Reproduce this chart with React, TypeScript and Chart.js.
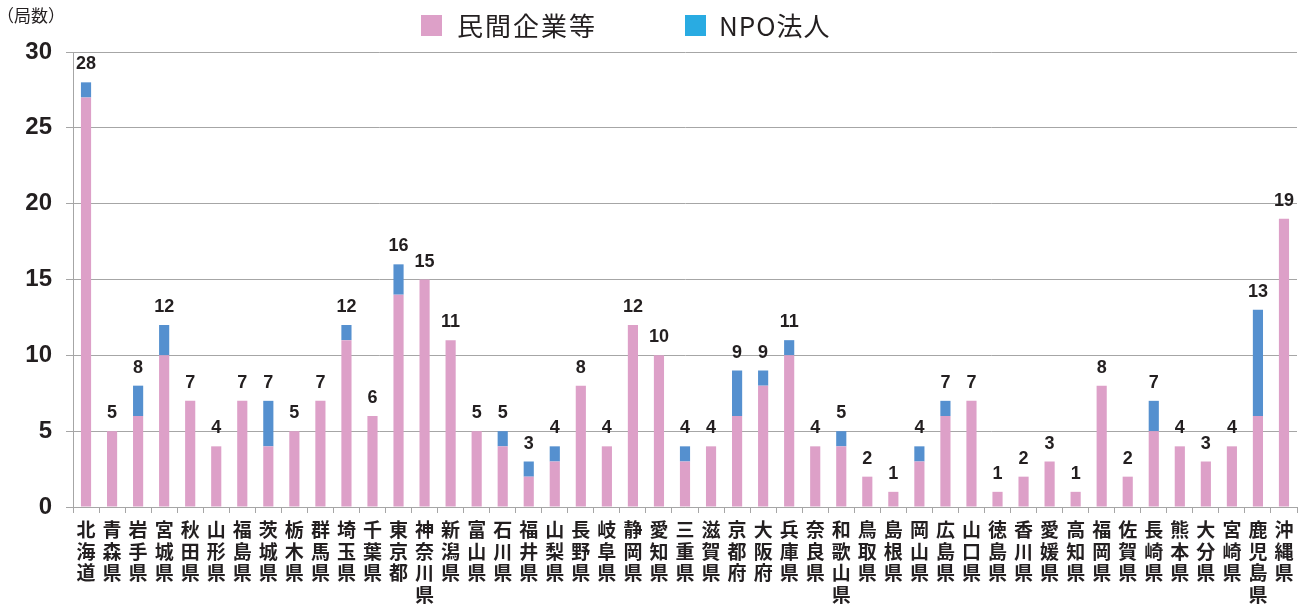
import React, { useEffect, useRef } from "react";
import { Chart, registerables } from "chart.js";

Chart.register(...registerables);

const prefectures: string[] = [
  "北海道", "青森県", "岩手県", "宮城県", "秋田県", "山形県", "福島県", "茨城県", "栃木県", "群馬県",
  "埼玉県", "千葉県", "東京都", "神奈川県", "新潟県", "富山県", "石川県", "福井県", "山梨県", "長野県",
  "岐阜県", "静岡県", "愛知県", "三重県", "滋賀県", "京都府", "大阪府", "兵庫県", "奈良県", "和歌山県",
  "鳥取県", "島根県", "岡山県", "広島県", "山口県", "徳島県", "香川県", "愛媛県", "高知県", "福岡県",
  "佐賀県", "長崎県", "熊本県", "大分県", "宮崎県", "鹿児島県", "沖縄県",
];

const privateCompanies: number[] = [
  27, 5, 6, 10, 7, 4, 7, 4, 5, 7,
  11, 6, 14, 15, 11, 5, 4, 2, 3, 8,
  4, 12, 10, 3, 4, 6, 8, 10, 4, 4,
  2, 1, 3, 6, 7, 1, 2, 3, 1, 8,
  2, 5, 4, 3, 4, 6, 19,
];

const npoCorporations: number[] = [
  1, 0, 2, 2, 0, 0, 0, 3, 0, 0,
  1, 0, 2, 0, 0, 0, 1, 1, 1, 0,
  0, 0, 0, 1, 0, 3, 1, 1, 0, 1,
  0, 0, 1, 1, 0, 0, 0, 0, 0, 0,
  0, 2, 0, 0, 0, 7, 0,
];

const yTicks: number[] = [0, 5, 10, 15, 20, 25, 30];

const seriesNames = ["民間企業等", "NPO法人"];
const PINK = "#DDA0C8";
const BLUE = "#5590CF";
const LEGEND_BLUE = "#29ABE2";
const GRID = "#A6A6A6";
const TEXT = "#231F20";

export default function App() {
  const ref = useRef<HTMLCanvasElement | null>(null);

  useEffect(() => {
    document.body.style.margin = "0";
    const canvas = ref.current;
    if (!canvas) return;

    const totalsPlugin = {
      id: "totals",
      afterDatasetsDraw(chart: any) {
        const ctx = chart.ctx;
        const xs = chart.scales.x;
        const ys = chart.scales.y;
        ctx.save();
        ctx.fillStyle = TEXT;
        ctx.font = "bold 18px 'Liberation Sans', Arial, sans-serif";
        ctx.textAlign = "center";
        ctx.textBaseline = "alphabetic";
        prefectures.forEach((_, i) => {
          const total = privateCompanies[i] + npoCorporations[i];
          const x = xs.getPixelForValue(i);
          const y = ys.getPixelForValue(total);
          ctx.fillText(String(total), x, y - 13);
        });
        ctx.restore();
      },
      afterDraw(chart: any) {
        const ctx = chart.ctx;
        ctx.save();
        // unit label
        ctx.fillStyle = TEXT;
        ctx.font = "17px 'Noto Sans CJK JP', sans-serif";
        ctx.textAlign = "left";
        ctx.textBaseline = "middle";
        ctx.fillText("（局数）", -3, 16);
        // legend
        const items = [
          { box: 421, text: 457, color: PINK, label: seriesNames[0], spacing: "2px" },
          { box: 685, text: 719, color: LEGEND_BLUE, label: seriesNames[1], spacing: "1px" },
        ];
        ctx.font = "26px 'Noto Sans CJK JP', sans-serif";
        items.forEach((it) => {
          try { (ctx as any).letterSpacing = it.spacing; } catch (e) {}
          ctx.fillStyle = it.color;
          ctx.fillRect(it.box, 15, 21, 21);
          ctx.fillStyle = TEXT;
          ctx.fillText(it.label, it.text, 26);
        });
        ctx.restore();
      },
    };

    const chart = new Chart(canvas, {
      type: "bar",
      data: {
        labels: prefectures.map((p) => p.split("")),
        datasets: [
          {
            label: seriesNames[0],
            data: privateCompanies,
            backgroundColor: PINK,
            barPercentage: 0.39,
            categoryPercentage: 1,
          },
          {
            label: seriesNames[1],
            data: npoCorporations,
            backgroundColor: BLUE,
            barPercentage: 0.39,
            categoryPercentage: 1,
          },
        ],
      },
      options: {
        animation: false,
        responsive: false,
        maintainAspectRatio: false,
        layout: { padding: { top: 52, right: 4, left: 0, bottom: 0 } },
        plugins: {
          legend: { display: false },
          tooltip: { enabled: false },
        },
        scales: {
          x: {
            stacked: true,
            afterFit: (s: any) => { s.height = 101; },
            grid: {
              offset: true,
              drawOnChartArea: false,
              drawTicks: true,
              tickLength: 6,
              color: GRID,
            },
            border: { color: GRID },
            ticks: {
              autoSkip: false,
              maxRotation: 0,
              minRotation: 0,
              padding: 6,
              color: TEXT,
              font: { family: "'Noto Sans CJK JP', sans-serif", size: 19, weight: "bold", lineHeight: 1.14 },
            },
          },
          y: {
            stacked: true,
            min: 0,
            max: 30,
            afterFit: (s: any) => { s.width = 73; },
            afterBuildTicks: (s: any) => { s.ticks = yTicks.map((v) => ({ value: v })); },
            grid: { color: GRID, tickLength: 7 },
            border: { color: GRID },
            ticks: {
              padding: 14,
              color: TEXT,
              font: { family: "'Liberation Sans', Arial, sans-serif", size: 24, weight: "bold" },
            },
          },
        },
      },
      plugins: [totalsPlugin],
    } as any);

    return () => chart.destroy();
  }, []);

  return (
    <div style={{ width: 1301, height: 608 }}>
      <canvas ref={ref} width={1301} height={608} style={{ display: "block" }} />
    </div>
  );
}
